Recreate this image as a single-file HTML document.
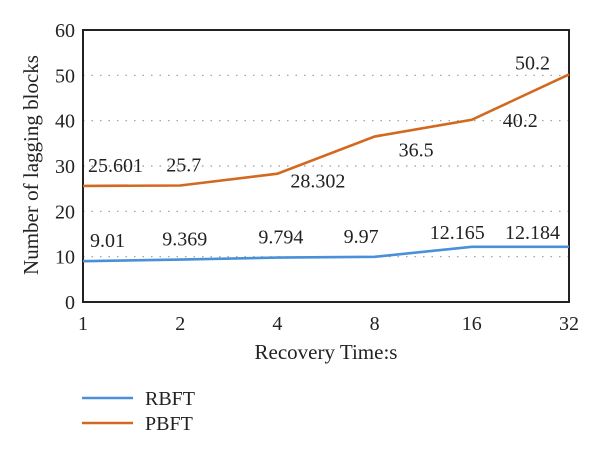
<!DOCTYPE html>
<html><head><meta charset="utf-8"><style>
body{margin:0;background:#fff}
svg text{font-family:"Liberation Serif",serif;fill:#222}
</style></head><body>
<svg width="600" height="450">
<g id="g"></g>
</svg>
<script>
const categories=["1","2","4","8","16","32"];
const rbft=[9.01,9.369,9.794,9.97,12.165,12.184];
const pbft=[25.601,25.7,28.302,36.5,40.2,50.2];
const yTicks=[0,10,20,30,40,50,60];
const rbftLabelPos=[[7,-14],[-18,-14],[-19,-14],[-31,-14],[-42,-8],[-64,-8]];
const pbftLabelPos=[[5,-14],[-14,-14],[13,14],[24,20],[31,7],[-54,-5]];
const X0=83,X1=569,Y0=302,Y1=30;
const xs=i=>X0+i*(X1-X0)/(categories.length-1);
const ys=v=>Y0-(v/60)*(Y0-Y1);
const NS="http://www.w3.org/2000/svg";
const g=document.getElementById('g');
function mk(t,a,txt){const e=document.createElementNS(NS,t);for(const k in a)e.setAttribute(k,a[k]);if(txt!==undefined)e.textContent=txt;g.appendChild(e);return e;}
yTicks.forEach(v=>{
 if(v>0&&v<60){const l=mk('line',{x1:X0,x2:X1,y1:ys(v),y2:ys(v),stroke:'#999','stroke-width':1.2,'stroke-dasharray':'1.5 7'});
 
 }
 const t=mk('text',{x:X0-8,y:ys(v)+7,'text-anchor':'end','font-size':20},v);
 
 
});
const fr=mk('rect',{x:X0,y:Y1,width:X1-X0,height:Y0-Y1,fill:'none',stroke:'#222','stroke-width':2});


categories.forEach((c,i)=>{
 const t=mk('text',{x:xs(i),y:Y0+28,'text-anchor':'middle','font-size':20},c);
 
 
});
function series(arr,col,name){
 const p=mk('polyline',{points:arr.map((v,i)=>xs(i)+','+ys(v)).join(' '),fill:'none',stroke:col,'stroke-width':2.6});
 
 
}
series(rbft,'#4a90d9','rbft');
series(pbft,'#d2691e','pbft');
rbft.forEach((v,i)=>{
 const t=mk('text',{x:xs(i)+rbftLabelPos[i][0],y:ys(v)+rbftLabelPos[i][1],'font-size':20},v);
 
 
});
pbft.forEach((v,i)=>{
 const t=mk('text',{x:xs(i)+pbftLabelPos[i][0],y:ys(v)+pbftLabelPos[i][1],'font-size':20},v);
 
 
});
const xt=mk('text',{x:326,y:359,'text-anchor':'middle','font-size':21},'Recovery Time:s');


const yt=mk('text',{x:0,y:0,'text-anchor':'middle','font-size':21,transform:'translate(38,165) rotate(-90)'},'Number of lagging blocks');


[['RBFT','#4a90d9',398],['PBFT','#d2691e',423]].forEach(([n,c,y])=>{
 const l=mk('line',{x1:82,x2:133,y1:y,y2:y,stroke:c,'stroke-width':2.6});
 
 
 const t=mk('text',{x:145,y:y+7,'font-size':20},n);
 
 
});
</script>
</body></html>
